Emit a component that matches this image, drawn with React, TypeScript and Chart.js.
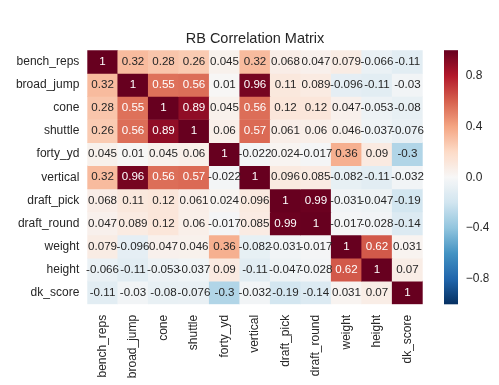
import { useEffect, useRef } from 'react';
import { Chart, registerables } from 'chart.js';

Chart.register(...registerables);

const FONT = '"Liberation Sans", Arial, Helvetica, sans-serif';
const TEXT = '#262626';

const chartTitle = 'RB Correlation Matrix';
const variables = [
  'bench_reps', 'broad_jump', 'cone', 'shuttle', 'forty_yd', 'vertical',
  'draft_pick', 'draft_round', 'weight', 'height', 'dk_score',
];

const benchReps = [1, 0.32, 0.28, 0.26, 0.045, 0.32, 0.068, 0.047, 0.079, -0.066, -0.11];
const broadJump = [0.32, 1, 0.55, 0.56, 0.01, 0.96, 0.11, 0.089, -0.096, -0.11, -0.03];
const cone = [0.28, 0.55, 1, 0.89, 0.045, 0.56, 0.12, 0.12, 0.047, -0.053, -0.08];
const shuttle = [0.26, 0.56, 0.89, 1, 0.06, 0.57, 0.061, 0.06, 0.046, -0.037, -0.076];
const fortyYd = [0.045, 0.01, 0.045, 0.06, 1, -0.022, 0.024, -0.017, 0.36, 0.09, -0.3];
const vertical = [0.32, 0.96, 0.56, 0.57, -0.022, 1, 0.096, 0.085, -0.082, -0.11, -0.032];
const draftPick = [0.068, 0.11, 0.12, 0.061, 0.024, 0.096, 1, 0.99, -0.031, -0.047, -0.19];
const draftRound = [0.047, 0.089, 0.12, 0.06, -0.017, 0.085, 0.99, 1, -0.017, -0.028, -0.14];
const weight = [0.079, -0.096, 0.047, 0.046, 0.36, -0.082, -0.031, -0.017, 1, 0.62, 0.031];
const height = [-0.066, -0.11, -0.053, -0.037, 0.09, -0.11, -0.047, -0.028, 0.62, 1, 0.07];
const dkScore = [-0.11, -0.03, -0.08, -0.076, -0.3, -0.032, -0.19, -0.14, 0.031, 0.07, 1];

const colorbarTicks = [-0.8, -0.4, 0, 0.4, 0.8];

const matrix = [benchReps, broadJump, cone, shuttle, fortyYd, vertical, draftPick, draftRound, weight, height, dkScore];

// matplotlib RdBu_r (colorbrewer, reversed)
const RDBU_R = [
  [0.0196078431373, 0.188235294118, 0.380392156863],
  [0.129411764706, 0.4, 0.674509803922],
  [0.262745098039, 0.576470588235, 0.764705882353],
  [0.572549019608, 0.772549019608, 0.870588235294],
  [0.819607843137, 0.898039215686, 0.941176470588],
  [0.96862745098, 0.96862745098, 0.96862745098],
  [0.992156862745, 0.858823529412, 0.780392156863],
  [0.956862745098, 0.647058823529, 0.509803921569],
  [0.839215686275, 0.376470588235, 0.301960784314],
  [0.698039215686, 0.0941176470588, 0.16862745098],
  [0.403921568627, 0.0, 0.121568627451],
];

function cmapRGB(v: number): number[] {
  let t = (v + 1) / 2;
  t = Math.max(0, Math.min(1, t));
  const pos = t * 10;
  const lo = Math.min(9, Math.floor(pos));
  const f = pos - lo;
  const a = RDBU_R[lo];
  const b = RDBU_R[lo + 1];
  return [0, 1, 2].map((k) => a[k] + (b[k] - a[k]) * f);
}
function cmap(v: number): string {
  const c = cmapRGB(v);
  return `rgb(${Math.round(c[0] * 255)},${Math.round(c[1] * 255)},${Math.round(c[2] * 255)})`;
}
function textColorFor(v: number): string {
  const c = cmapRGB(v).map((x) => (x <= 0.03928 ? x / 12.92 : Math.pow((x + 0.055) / 1.055, 2.4)));
  const lum = 0.2126 * c[0] + 0.7152 * c[1] + 0.0722 * c[2];
  return lum > 0.408 ? TEXT : '#ffffff';
}
function fmt(v: number): string {
  return String(Number(v.toPrecision(2)));
}

const heatPlugin = {
  id: 'heatExtras',
  afterDatasetsDraw(chart: any) {
    const ctx = chart.ctx;
    ctx.save();
    ctx.font = `11.6px ${FONT}`;
    ctx.textAlign = 'center';
    ctx.textBaseline = 'middle';
    matrix.forEach((row, i) => {
      const meta = chart.getDatasetMeta(i);
      meta.data.forEach((el: any, j: number) => {
        const v = row[j];
        ctx.fillStyle = textColorFor(v);
        ctx.fillText(fmt(v), el.x, (el.y + el.base) / 2);
      });
    });
    ctx.restore();
  },
  afterDraw(chart: any) {
    const s = chart.scales.cb;
    const ctx = chart.ctx;
    const top = s.getPixelForValue(1);
    const bottom = s.getPixelForValue(-1);
    const x = s.left + 21.3;
    const w = 14;
    const g = ctx.createLinearGradient(0, top, 0, bottom);
    for (let k = 0; k <= 100; k++) {
      const v = 1 - (2 * k) / 100;
      g.addColorStop(k / 100, cmap(v));
    }
    ctx.save();
    ctx.fillStyle = g;
    ctx.fillRect(x, top, w, bottom - top);
    ctx.restore();
  },
};

export default function App() {
  const ref = useRef<HTMLCanvasElement | null>(null);

  useEffect(() => {
    if (!ref.current) return;
    const datasets = matrix.map((row, i) => ({
      label: variables[i],
      data: row.map(() => [i, i + 1]),
      backgroundColor: row.map((v) => cmap(v)),
      borderWidth: 0,
      barPercentage: 1,
      categoryPercentage: 1,
      grouped: false,
      xAxisID: 'x',
      yAxisID: 'y',
    }));
    const tickFont = { family: FONT, size: 12 };
    const chart = new Chart(ref.current, {
      type: 'bar',
      data: { labels: variables, datasets: datasets as any },
      plugins: [heatPlugin],
      options: {
        animation: false,
        responsive: false,
        maintainAspectRatio: false,
        events: [],
        layout: { padding: { left: 0, right: 10.3, top: 0, bottom: 0 } },
        plugins: {
          legend: { display: false },
          tooltip: { enabled: false },
          title: {
            display: true,
            text: chartTitle,
            fullSize: false,
            color: TEXT,
            font: { family: FONT, size: 14.5, weight: 'normal', lineHeight: 1.2 },
            padding: { top: 11.3, bottom: 2.3 },
          },
        },
        scales: {
          x: {
            type: 'category',
            position: 'bottom',
            grid: { display: false, drawTicks: false },
            border: { display: false },
            ticks: {
              autoSkip: false,
              minRotation: 90,
              maxRotation: 90,
              padding: 10.5,
              color: TEXT,
              font: tickFont,
            },
            afterFit: (s: any) => { s.height = 80.7; },
          },
          y: {
            type: 'linear',
            min: 0,
            max: 11,
            reverse: true,
            grid: { display: false, drawTicks: false },
            border: { display: false },
            afterBuildTicks: (s: any) => {
              s.ticks = variables.map((_, i) => ({ value: i + 0.5 }));
            },
            ticks: {
              autoSkip: false,
              padding: 8,
              color: TEXT,
              font: tickFont,
              callback: (_v: any, i: number) => variables[i],
            },
            afterFit: (s: any) => { s.width = 87.3; },
          },
          cb: {
            type: 'linear',
            position: 'right',
            min: -1,
            max: 1,
            grid: { display: false, drawTicks: false },
            border: { display: false },
            afterBuildTicks: (s: any) => {
              s.ticks = colorbarTicks.map((v) => ({ value: v }));
            },
            ticks: {
              autoSkip: false,
              padding: 43,
              color: TEXT,
              font: tickFont,
              callback: (v: any) => Number(v).toFixed(1).replace('-', '\u2212'),
            },
            afterFit: (s: any) => { s.width = 66; },
          },
        },
      } as any,
    });
    return () => chart.destroy();
  }, []);

  return (
    <div style={{ position: 'fixed', left: 0, top: 0, width: 499, height: 385, background: '#fff' }}>
      <canvas ref={ref} width={499} height={385} style={{ width: 499, height: 385 }} />
    </div>
  );
}
